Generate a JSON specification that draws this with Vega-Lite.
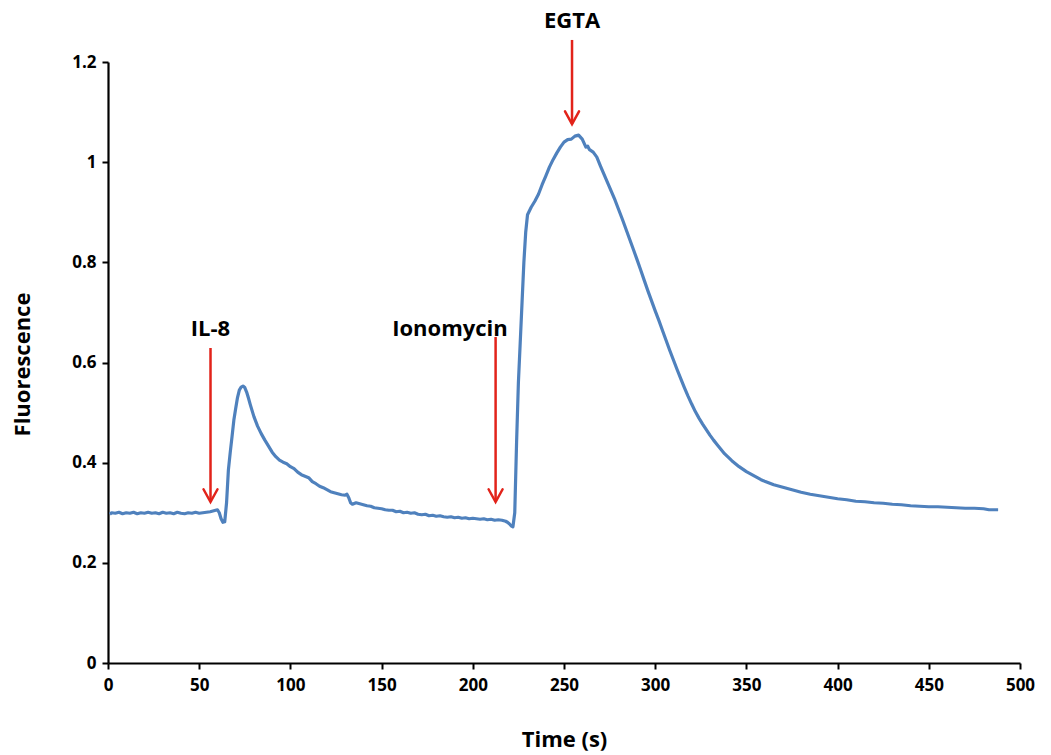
{
  "$schema": "https://vega.github.io/schema/vega-lite/v6.json",
  "autosize": "none",
  "width": 912,
  "height": 601,
  "padding": {"left": 108, "top": 62, "right": 31, "bottom": 92},
  "background": "white",
  "config": {"view": {"stroke": null}},
  "datasets": {
    "trace": [
      {"t":1,"v":0.297},{"t":2,"v":0.300},{"t":4,"v":0.299},{"t":6,"v":0.301},{"t":8,"v":0.298},{"t":10,"v":0.300},{"t":12,"v":0.299},{"t":14,"v":0.301},{"t":16,"v":0.298},{"t":18,"v":0.300},{"t":20,"v":0.299},{"t":22,"v":0.301},{"t":24,"v":0.299},{"t":26,"v":0.300},{"t":28,"v":0.298},{"t":30,"v":0.301},{"t":32,"v":0.299},{"t":34,"v":0.300},{"t":36,"v":0.298},{"t":38,"v":0.301},{"t":40,"v":0.299},{"t":42,"v":0.298},{"t":44,"v":0.300},{"t":46,"v":0.299},{"t":48,"v":0.301},{"t":50,"v":0.299},{"t":52,"v":0.300},{"t":54,"v":0.301},{"t":56,"v":0.302},{"t":58,"v":0.304},{"t":60,"v":0.306},{"t":61,"v":0.300},{"t":62,"v":0.288},{"t":63,"v":0.281},{"t":64,"v":0.282},{"t":65,"v":0.320},{"t":66,"v":0.385},{"t":67,"v":0.420},{"t":68,"v":0.452},{"t":69,"v":0.485},{"t":70,"v":0.508},{"t":71,"v":0.530},{"t":72,"v":0.545},{"t":73,"v":0.551},{"t":74,"v":0.553},{"t":75,"v":0.550},{"t":76,"v":0.541},{"t":77,"v":0.529},{"t":78,"v":0.516},{"t":80,"v":0.492},{"t":82,"v":0.473},{"t":84,"v":0.458},{"t":86,"v":0.445},{"t":88,"v":0.433},{"t":90,"v":0.421},{"t":92,"v":0.412},{"t":94,"v":0.405},{"t":96,"v":0.401},{"t":98,"v":0.398},{"t":100,"v":0.392},{"t":102,"v":0.388},{"t":104,"v":0.381},{"t":106,"v":0.376},{"t":108,"v":0.373},{"t":110,"v":0.370},{"t":112,"v":0.362},{"t":114,"v":0.358},{"t":116,"v":0.353},{"t":118,"v":0.350},{"t":120,"v":0.346},{"t":122,"v":0.342},{"t":124,"v":0.340},{"t":126,"v":0.338},{"t":128,"v":0.336},{"t":130,"v":0.335},{"t":131,"v":0.337},{"t":132,"v":0.330},{"t":133,"v":0.320},{"t":134,"v":0.317},{"t":136,"v":0.320},{"t":138,"v":0.318},{"t":140,"v":0.316},{"t":142,"v":0.314},{"t":144,"v":0.313},{"t":146,"v":0.310},{"t":148,"v":0.309},{"t":150,"v":0.308},{"t":152,"v":0.306},{"t":154,"v":0.305},{"t":156,"v":0.305},{"t":158,"v":0.302},{"t":160,"v":0.303},{"t":162,"v":0.300},{"t":164,"v":0.301},{"t":166,"v":0.299},{"t":168,"v":0.300},{"t":170,"v":0.297},{"t":172,"v":0.296},{"t":174,"v":0.297},{"t":176,"v":0.294},{"t":178,"v":0.295},{"t":180,"v":0.293},{"t":182,"v":0.294},{"t":184,"v":0.292},{"t":186,"v":0.291},{"t":188,"v":0.292},{"t":190,"v":0.290},{"t":192,"v":0.291},{"t":194,"v":0.289},{"t":196,"v":0.290},{"t":198,"v":0.288},{"t":200,"v":0.289},{"t":202,"v":0.288},{"t":204,"v":0.287},{"t":206,"v":0.288},{"t":208,"v":0.286},{"t":210,"v":0.287},{"t":212,"v":0.285},{"t":214,"v":0.286},{"t":216,"v":0.285},{"t":218,"v":0.283},{"t":219,"v":0.281},{"t":220,"v":0.278},{"t":221,"v":0.274},{"t":222,"v":0.272},{"t":223,"v":0.300},{"t":224,"v":0.440},{"t":225,"v":0.560},{"t":226,"v":0.640},{"t":227,"v":0.720},{"t":228,"v":0.800},{"t":229,"v":0.860},{"t":230,"v":0.895},{"t":232,"v":0.910},{"t":234,"v":0.922},{"t":236,"v":0.936},{"t":238,"v":0.955},{"t":240,"v":0.972},{"t":242,"v":0.990},{"t":244,"v":1.005},{"t":246,"v":1.018},{"t":248,"v":1.030},{"t":250,"v":1.040},{"t":252,"v":1.045},{"t":254,"v":1.046},{"t":256,"v":1.052},{"t":258,"v":1.054},{"t":260,"v":1.046},{"t":261,"v":1.038},{"t":262,"v":1.030},{"t":263,"v":1.032},{"t":264,"v":1.025},{"t":266,"v":1.020},{"t":268,"v":1.010},{"t":270,"v":0.992},{"t":272,"v":0.975},{"t":274,"v":0.958},{"t":276,"v":0.941},{"t":278,"v":0.924},{"t":280,"v":0.905},{"t":282,"v":0.886},{"t":284,"v":0.866},{"t":286,"v":0.846},{"t":288,"v":0.826},{"t":290,"v":0.806},{"t":292,"v":0.785},{"t":294,"v":0.764},{"t":296,"v":0.743},{"t":298,"v":0.723},{"t":300,"v":0.703},{"t":302,"v":0.684},{"t":304,"v":0.664},{"t":306,"v":0.644},{"t":308,"v":0.624},{"t":310,"v":0.605},{"t":312,"v":0.586},{"t":314,"v":0.568},{"t":316,"v":0.550},{"t":318,"v":0.533},{"t":320,"v":0.517},{"t":322,"v":0.502},{"t":324,"v":0.489},{"t":326,"v":0.477},{"t":328,"v":0.466},{"t":330,"v":0.455},{"t":332,"v":0.445},{"t":334,"v":0.436},{"t":336,"v":0.427},{"t":338,"v":0.418},{"t":340,"v":0.411},{"t":342,"v":0.404},{"t":344,"v":0.398},{"t":346,"v":0.392},{"t":348,"v":0.387},{"t":350,"v":0.382},{"t":352,"v":0.378},{"t":354,"v":0.374},{"t":356,"v":0.370},{"t":358,"v":0.366},{"t":360,"v":0.363},{"t":365,"v":0.356},{"t":370,"v":0.351},{"t":375,"v":0.346},{"t":380,"v":0.341},{"t":385,"v":0.337},{"t":390,"v":0.334},{"t":395,"v":0.331},{"t":400,"v":0.328},{"t":405,"v":0.326},{"t":410,"v":0.323},{"t":415,"v":0.322},{"t":420,"v":0.320},{"t":425,"v":0.319},{"t":430,"v":0.317},{"t":435,"v":0.316},{"t":440,"v":0.314},{"t":445,"v":0.313},{"t":450,"v":0.312},{"t":455,"v":0.312},{"t":460,"v":0.311},{"t":465,"v":0.310},{"t":470,"v":0.309},{"t":475,"v":0.309},{"t":480,"v":0.308},{"t":483,"v":0.306},{"t":488,"v":0.306}
    ],
    "arrows": [
      {"label":"IL-8","t":56.2,"top":0.629,"tip":0.3215},
      {"label":"Ionomycin","t":212.5,"top":0.651,"tip":0.3215},
      {"label":"EGTA","t":254.4,"top":1.244,"tip":1.076}
    ],
    "labels": [
      {"label":"IL-8","t":56.2,"ly":0.666},
      {"label":"Ionomycin","t":187.5,"ly":0.666},
      {"label":"EGTA","t":254.4,"ly":1.282}
    ]
  },
  "layer": [
    {
      "data": {"name": "trace"},
      "mark": {"type": "line", "color": "#4F81BD", "strokeWidth": 3.2, "strokeJoin": "round", "clip": false},
      "encoding": {
        "x": {
          "field": "t", "type": "quantitative",
          "scale": {"domain": [0, 500], "nice": false, "zero": false},
          "axis": {
            "values": [0,50,100,150,200,250,300,350,400,450,500],
            "title": "Time (s)",
            "titleFont": "Open Sans", "titleFontSize": 22, "titleFontWeight": "bold", "titleColor": "#000",
            "titleX": 456, "titleY": 76, "titleBaseline": "middle", "titleAlign": "center",
            "labelFont": "Open Sans", "labelFontSize": 17, "labelFontWeight": "bold", "labelColor": "#000",
            "labelPadding": 8, "labelFlush": false, "labelOverlap": false,
            "domainColor": "#000", "domainWidth": 2.2,
            "tickColor": "#000", "tickWidth": 2, "tickSize": 6,
            "grid": false
          }
        },
        "y": {
          "field": "v", "type": "quantitative",
          "scale": {"domain": [0, 1.2], "nice": false},
          "axis": {
            "values": [0,0.2,0.4,0.6,0.8,1,1.2],
            "format": "~g",
            "title": "Fluorescence",
            "titleFont": "Open Sans", "titleFontSize": 22, "titleFontWeight": "bold", "titleColor": "#000",
            "titleAngle": -90, "titleX": -86, "titleY": 302, "titleBaseline": "middle", "titleAlign": "center",
            "labelFont": "Open Sans", "labelFontSize": 17, "labelFontWeight": "bold", "labelColor": "#000",
            "labelPadding": 6, "labelFlush": false, "labelOverlap": false,
            "domainColor": "#000", "domainWidth": 2.2,
            "tickColor": "#000", "tickWidth": 2, "tickSize": 6,
            "grid": false
          }
        }
      }
    },
    {
      "data": {"name": "arrows"},
      "mark": {"type": "rule", "color": "#E2231A", "strokeWidth": 2.5, "clip": false},
      "encoding": {
        "x": {"field": "t", "type": "quantitative"},
        "y": {"field": "top", "type": "quantitative"},
        "y2": {"field": "tip"}
      }
    },
    {
      "data": {"name": "arrows"},
      "mark": {"type": "point", "shape": "M-0.55,-1L0,0L0.55,-1", "filled": false, "stroke": "#E2231A", "strokeWidth": 2.5, "size": 650, "opacity": 1, "strokeCap": "round", "clip": false},
      "encoding": {
        "x": {"field": "t", "type": "quantitative"},
        "y": {"field": "tip", "type": "quantitative"}
      }
    },
    {
      "data": {"name": "labels"},
      "mark": {"type": "text", "font": "Open Sans", "fontSize": 22, "fontWeight": "bold", "color": "#000", "align": "center", "baseline": "middle", "clip": false},
      "encoding": {
        "x": {"field": "t", "type": "quantitative"},
        "y": {"field": "ly", "type": "quantitative"},
        "text": {"field": "label"}
      }
    }
  ]
}
